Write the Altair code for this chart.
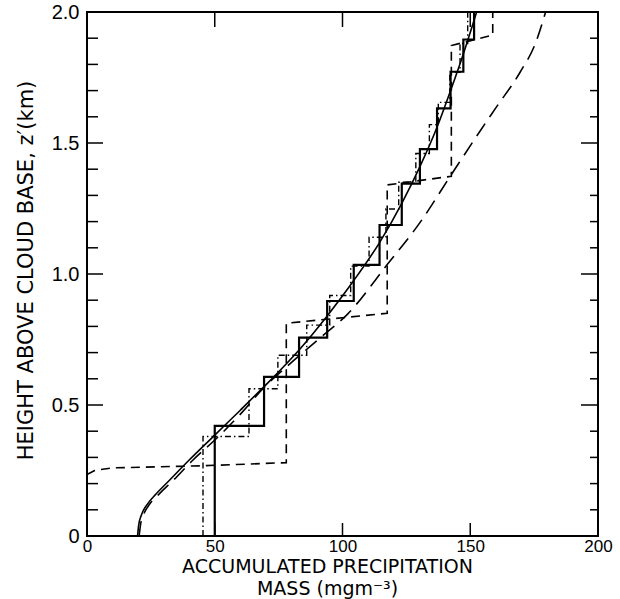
import altair as alt
import pandas as pd

# ---------------- data ----------------
# Solid staircase: x position of each riser and the level reached at it
solid_step_x = [50, 69.3, 83, 94, 104.4, 114.5, 123.2, 130.3, 137, 142.3, 147.3, 151.5]
solid_step_y = [0.42, 0.607, 0.757, 0.897, 1.035, 1.187, 1.345, 1.477, 1.632, 1.772, 1.895, 2.0]

# Dash-dot staircase
dd_step_x = [45.4, 63.4, 74.7, 86, 95, 103.2, 110.4, 117, 122, 128.7, 134, 137.5, 142, 146, 149]
dd_step_y = [0.38, 0.562, 0.69, 0.805, 0.918, 1.03, 1.14, 1.248, 1.35, 1.46, 1.57, 1.655, 1.77, 1.88, 2.0]

# Coarse dashed staircase (explicit vertices)
dash_x = [0, 3, 10, 45, 78, 78, 117.5, 117.5, 142.6, 142.6, 158.8, 158.8]
dash_y = [0.235, 0.25, 0.26, 0.268, 0.28, 0.812, 0.85, 1.34, 1.373, 1.872, 1.912, 2.0]

# Smooth solid curve
curve1_x = [19.8, 20.2, 21.3, 23.5, 27, 32, 40, 50, 60, 69.3, 83, 94, 104.4, 114.5, 123.2, 130.3, 137, 142.3, 147.3, 152.5]
curve1_y = [0.0, 0.04, 0.08, 0.12, 0.16, 0.21, 0.29, 0.385, 0.48, 0.57, 0.71, 0.84, 0.975, 1.12, 1.27, 1.41, 1.56, 1.70, 1.84, 2.0]

# Smooth long-dashed curve
curve2_x = [20.4, 20.9, 22.1, 24.4, 28.2, 33.5, 41.5, 51.5, 60.5, 69.2, 78.6, 91.2, 102, 117.5, 130.3, 142.5, 153.8, 160, 169.5, 175.5, 179.5]
curve2_y = [0.0, 0.04, 0.08, 0.12, 0.16, 0.21, 0.29, 0.38, 0.47, 0.566, 0.65, 0.756, 0.847, 1.036, 1.196, 1.378, 1.545, 1.634, 1.77, 1.88, 2.0]

x_label_values = [0, 50, 100, 150, 200]
x_tick_values = [50, 100, 150]
y_major = [0, 0.5, 1.0, 1.5, 2.0]
y_minor = [0.1, 0.2, 0.3, 0.4, 0.6, 0.7, 0.8, 0.9, 1.1, 1.2, 1.3, 1.4, 1.6, 1.7, 1.8, 1.9]

x_title = ["ACCUMULATED PRECIPITATION", "MASS (mgm\u207b\u00b3)"]
y_title = "HEIGHT ABOVE CLOUD BASE, z\u2032(km)"

# ---------------- build tables ----------------
def step_path(xs, ys):
    px, py = [xs[0]], [0.0]
    prev = 0.0
    for k, (x, y) in enumerate(zip(xs, ys)):
        if k > 0:
            px.append(x); py.append(prev)
        px.append(x); py.append(y)
        prev = y
    return pd.DataFrame({"x": px, "y": py, "i": range(len(px))})

def path(xs, ys):
    return pd.DataFrame({"x": xs, "y": ys, "i": range(len(xs))})

LEFT, TOP = 87, 12
W, H = 511, 524
LF = "Liberation Sans"
TF = "DejaVu Sans"

xscale = alt.Scale(domain=[0, 200], nice=False, zero=False)
yscale = alt.Scale(domain=[0, 2], nice=False, zero=False)

xaxis = alt.Axis(values=x_label_values, format="d", title=x_title, ticks=False, tickSize=0,
                 domain=False, grid=False, labelFont=LF, labelFontSize=17, labelPadding=2,
                 labelColor="black", labelFlush=False, labelOverlap=False,
                 titleFont=TF, titleFontSize=19, titleFontWeight="normal", titleColor="black",
                 titleX=240, titleY=36, titleAlign="center", titleBaseline="alphabetic",
                 titleLineHeight=22.5, titleAnchor="start")
yaxis = alt.Axis(values=y_major, labelExpr="datum.value == 0 ? '0' : format(datum.value, '.1f')",
                 title=y_title, ticks=False, tickSize=0, domain=False, grid=False,
                 labelFont=LF, labelFontSize=20, labelPadding=8, labelColor="black",
                 labelFlush=False, labelOverlap=False,
                 titleFont=TF, titleFontSize=21, titleFontWeight="normal", titleColor="black",
                 titleX=-61, titleY=258, titleAngle=270, titleAlign="center", titleBaseline="middle",
                 titleAnchor="start")

def line_layer(df, width, dash=None, interp="linear", first=False):
    mk = dict(color="black", strokeWidth=width, interpolate=interp, strokeCap="butt")
    if dash:
        mk["strokeDash"] = dash
    return alt.Chart(df).mark_line(**mk).encode(
        x=alt.X("x:Q", scale=xscale, axis=xaxis if first else alt.Axis(title=x_title)),
        y=alt.Y("y:Q", scale=yscale, axis=yaxis if first else alt.Axis(title=y_title)),
        order="i:Q",
    )

layers = [
    line_layer(step_path(solid_step_x, solid_step_y), 2.2, first=True),
    line_layer(step_path(dd_step_x, dd_step_y), 1.4, dash=[6, 3, 1.5, 3]),
    line_layer(path(dash_x, dash_y), 1.6, dash=[9, 6]),
    line_layer(path(curve1_x, curve1_y), 1.6, interp="monotone"),
    line_layer(path(curve2_x, curve2_y), 1.6, dash=[15, 8], interp="monotone"),
]

def ytick_layer(vals, x0, x1):
    return alt.Chart(pd.DataFrame({"y": vals})).mark_rule(color="black", strokeWidth=1.5).encode(
        y=alt.Y("y:Q", scale=yscale, axis=alt.Axis(title=y_title)), x=alt.value(x0), x2=alt.value(x1))

def xtick_layer(vals, y0, y1):
    return alt.Chart(pd.DataFrame({"x": vals})).mark_rule(color="black", strokeWidth=1.5).encode(
        x=alt.X("x:Q", scale=xscale, axis=alt.Axis(title=x_title)), y=alt.value(y0), y2=alt.value(y1))

layers += [
    ytick_layer(y_major, 0, 16),
    ytick_layer(y_minor, 0, 11),
    ytick_layer(y_major, W, W - 17),
    ytick_layer(y_minor, W, W - 8),
    xtick_layer(x_tick_values, H, H - 13),
    xtick_layer(x_tick_values, 0, 15),
]

chart = alt.layer(*layers).properties(
    width=W, height=H,
    padding={"left": LEFT, "top": TOP, "right": 620 - LEFT - W, "bottom": 599 - TOP - H},
    autosize=alt.AutoSizeParams(type="none"),
    background="white",
).configure_view(stroke="black", strokeWidth=2)

chart.save("out.html", embed_options={"renderer": "svg", "actions": False})
